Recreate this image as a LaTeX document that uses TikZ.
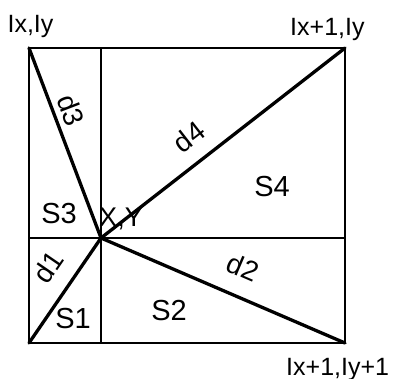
\documentclass[tikz,border=0pt]{standalone}
\usepackage{fontspec}
\setmainfont{Liberation Sans}
\begin{document}
\begin{tikzpicture}[x=1pt,y=-1pt,
  thinline/.style={line width=1.7pt},
  diag/.style={line width=3.3pt,line cap=round},
  corner/.style={inner sep=0pt,font=\fontsize{25}{25}\selectfont},
  region/.style={inner sep=0pt,font=\fontsize{29}{29}\selectfont},
  dist/.style={inner sep=0pt,font=\fontsize{28}{28}\selectfont}]
\useasboundingbox (0,0) rectangle (399,378);
% corners and center point
\coordinate (tl) at (29,48);
\coordinate (tr) at (345,48);
\coordinate (br) at (345,343);
\coordinate (bl) at (29,343);
\coordinate (p) at (101,238);
\coordinate (vt) at (101,48);
\coordinate (vb) at (101,343);
\coordinate (hl) at (29,238);
\coordinate (hr) at (345,238);
% frame and grid lines
\draw[thinline] (tl) -- (tr) -- (br) -- (bl) -- cycle;
\draw[thinline] (vt) -- (vb);
\draw[thinline] (hl) -- (hr);
% distances
\draw[diag] (p) -- (tl);
\draw[diag] (p) -- (tr);
\draw[diag] (p) -- (br);
\draw[diag] (p) -- (bl);
% labels
\node[corner,anchor=base] (ltl) at (30.5,32) {Ix,Iy};
\node[corner,anchor=base west] (ltr) at (290,35) {Ix+1,Iy};
\node[corner,anchor=base west] (lbr) at (286,375) {Ix+1,Iy+1};
\node[dist,rotate=-69] (d3) at (71,110) {d3};
\node[dist,rotate=37.9] (d4) at (189,137) {d4};
\node[dist,rotate=55.6] (d1) at (48,267) {d1};
\node[dist,rotate=-23.3] (d2) at (243,267) {d2};
\node[region] (s3) at (59,214) {S3};
\node[region] (s1) at (73,319) {S1};
\node[region] (s2) at (169,311) {S2};
\node[region] (s4) at (272,187) {S4};
\node[region,font=\fontsize{27}{27}\selectfont] (xy) at (121,219) {X,Y};
\end{tikzpicture}
\end{document}
